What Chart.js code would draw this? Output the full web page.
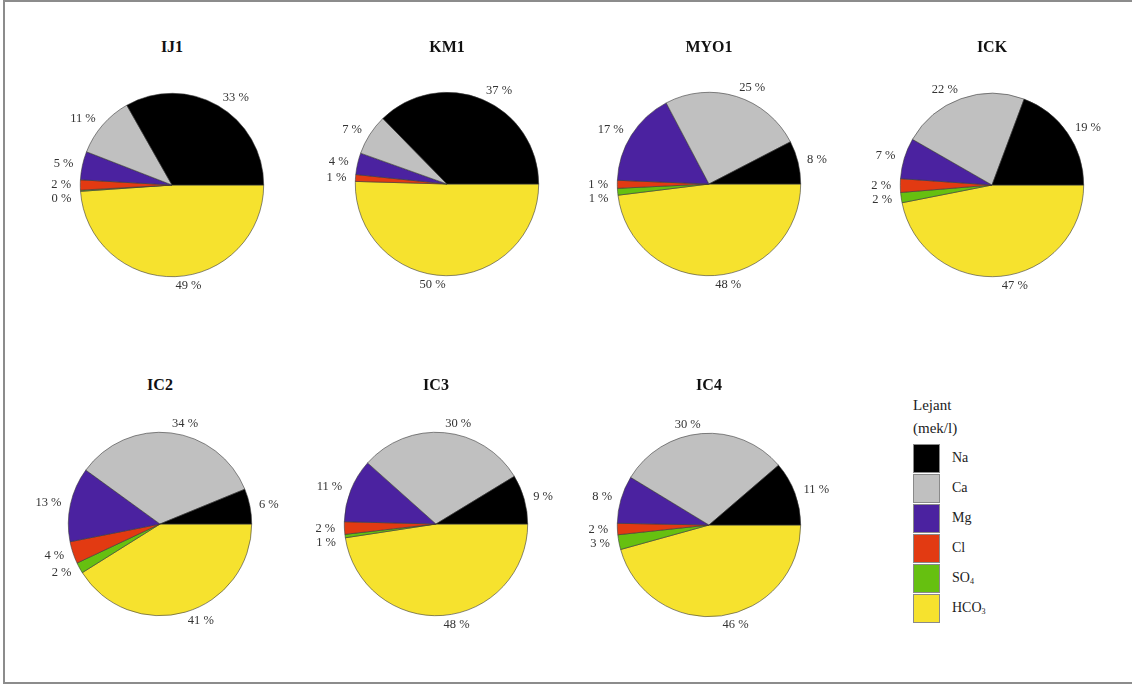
<!DOCTYPE html>
<html>
<head>
<meta charset="utf-8">
<script src="https://cdn.jsdelivr.net/npm/chart.js@4.4.1/dist/chart.umd.min.js"></script>
<style>
  body { margin: 0; background: #fff; font-family: 'Liberation Serif', 'DejaVu Serif', serif; }
  #page { position: relative; width: 1132px; height: 686px; overflow: hidden; }
  .frame { position: absolute; left: 3px; top: 0; width: 1140px; height: 684px;
           border: 2px solid #8c8c8c; border-right: none; box-sizing: border-box; }
  canvas { position: absolute; }
  .title { position: absolute; font-weight: bold; font-size: 16px; color: #111;
           transform: translate(-50%, -50%); white-space: nowrap; }
  .legend { position: absolute; left: 913px; top: 394px; color: #222; }
  .legend .head { font-size: 15px; line-height: 23px; }
  .legend .row { position: relative; height: 30px; }
  .legend .box { position: absolute; left: 0; top: 0; width: 25px; height: 27px; border: 1px solid #8a8a8a; }
  .legend .lbl { position: absolute; left: 39px; top: 6px; font-size: 14px; }
  .legend sub { font-size: 8px; vertical-align: -2px; }
</style>
</head>
<body>
<div id="page">
  <div class="frame"></div>
  <div class="legend" id="legend">
    <div class="head">Lejant</div>
    <div class="head" style="margin-bottom:4px">(mek/l)</div>
  </div>
</div>
<script>
// ions, in legend order (Na first, drawn counterclockwise from 3 o'clock)
const ions = ['Na', 'Ca', 'Mg', 'Cl', 'SO4', 'HCO3'];
const ionLabels = ['Na', 'Ca', 'Mg', 'Cl', 'SO<sub>4</sub>', 'HCO<sub>3</sub>'];
const colors = ['#000000', '#c0c0c0', '#4b22a0', '#e23a12', '#66c010', '#f6e22e'];

const sites = ['IJ1', 'KM1', 'MYO1', 'ICK', 'IC2', 'IC3', 'IC4'];

// percent of mek/l per site: Na, Ca, Mg, Cl, SO4, HCO3
const ij1  = [33.2, 10.9,  5.0, 1.8, 0.2,  48.9];
const km1  = [37.3,  7.2,  3.8, 1.2, null, 50.4];
const myo1 = [ 7.6, 25.1, 16.6, 1.4, 1.2,  48.0];
const ick  = [19.3, 22.4,  7.2, 2.4, 1.8,  46.9];
const ic2  = [ 6.2, 33.8, 13.1, 3.9, 1.9,  41.1];
const ic3  = [ 8.7, 29.7, 11.2, 2.2, 0.6,  47.6];
const ic4  = [11.3, 30.0,  8.4, 2.0, 2.6,  45.7];

const siteData = [ij1, km1, myo1, ick, ic2, ic3, ic4];

// pie centres and title positions on the page
const centers = [[172, 185], [447, 184], [709, 184], [992, 185], [160, 524], [436, 524], [709, 525]];
const titleY = [47, 47, 47, 47, 385, 385, 385];

const page = document.getElementById('page');

// labels like R's pie(): at 1.1 * radius, right aligned on the left half,
// pushed apart a little where small slices sit next to each other
const pctLabels = {
  id: 'pctLabels',
  afterDatasetsDraw(chart) {
    const ctx = chart.ctx;
    const meta = chart.getDatasetMeta(0);
    const vals = chart.data.datasets[0].data;
    const items = [];
    meta.data.forEach((arc, i) => {
      if (vals[i] === null) return;
      const p = arc.getProps(['x', 'y', 'startAngle', 'endAngle', 'outerRadius'], true);
      const mid = (p.startAngle + p.endAngle) / 2;
      const r = p.outerRadius * 1.1;
      const c = Math.cos(mid);
      items.push({ text: Math.round(vals[i]) + ' %', left: c < 0,
                   x: p.x + r * c, y: p.y + r * Math.sin(mid) });
    });
    [true, false].forEach(side => {
      const s = items.filter(d => d.left === side).sort((a, b) => a.y - b.y);
      for (let j = 1; j < s.length; j++) {
        if (s[j].y - s[j - 1].y < 14) s[j].y = s[j - 1].y + 14;
      }
    });
    ctx.save();
    ctx.font = '12.5px "Liberation Serif", serif';
    ctx.fillStyle = '#333';
    ctx.textBaseline = 'middle';
    items.forEach(d => {
      ctx.textAlign = d.left ? 'right' : 'left';
      ctx.fillText(d.text, d.x, d.y);
    });
    ctx.restore();
  }
};

sites.forEach((name, k) => {
  const [cx, cy] = centers[k];
  const cv = document.createElement('canvas');
  cv.width = 300; cv.height = 240;
  cv.style.left = (cx - 150) + 'px';
  cv.style.top = (cy - 120) + 'px';
  page.appendChild(cv);

  const t = document.createElement('div');
  t.className = 'title';
  t.textContent = name;
  t.style.left = cx + 'px';
  t.style.top = titleY[k] + 'px';
  page.appendChild(t);

  // reversed so clockwise drawing gives R's counterclockwise order
  const vals = siteData[k].slice().reverse();
  new Chart(cv, {
    type: 'pie',
    data: {
      labels: ions.slice().reverse(),
      datasets: [{
        data: vals,
        backgroundColor: colors.slice().reverse(),
        borderColor: '#3a3a3a',
        borderWidth: 0.6
      }]
    },
    options: {
      responsive: false,
      animation: false,
      rotation: 90,
      layout: { padding: { left: 58, right: 58, top: 28, bottom: 28 } },
      plugins: {
        legend: { display: false },
        tooltip: { enabled: false }
      }
    },
    plugins: [pctLabels]
  });
});

const legend = document.getElementById('legend');
ions.forEach((ion, i) => {
  const row = document.createElement('div');
  row.className = 'row';
  row.innerHTML = '<div class="box" style="background:' + colors[i] + '"></div>' +
                  '<div class="lbl">' + ionLabels[i] + '</div>';
  legend.appendChild(row);
});
</script>
</body>
</html>
